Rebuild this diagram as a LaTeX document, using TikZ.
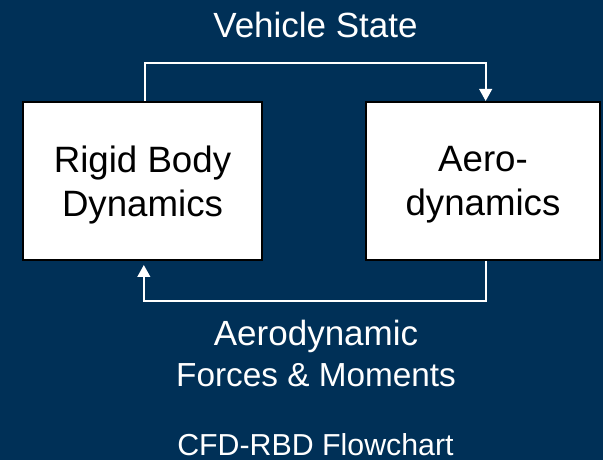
\documentclass[tikz,border=0pt]{standalone}
\usepackage{fontspec}
\setmainfont{Liberation Sans}
\usetikzlibrary{arrows.meta}

\definecolor{navy}{RGB}{0,48,87}

\tikzset{
    block/.style={draw=black, fill=white, line width=1.5pt, align=center,
        font=\fontsize{27.5}{33}\selectfont, inner sep=0pt, text depth=0pt},
    flow/.style={draw=white, line width=1.5pt, -{Triangle[width=9.5pt,length=9pt]}},
    label/.style={text=white, align=center, font=\fontsize{26.25}{30.75}\selectfont}
}

\begin{document}
\begin{tikzpicture}[x=0.75pt, y=0.75pt]

    % Background
    \fill[navy] (0,0) rectangle (603,460);
    \useasboundingbox (0,0) rectangle (603,460);

    %% Coupled solvers

    % Rigid body box
    \node[block, minimum width=179pt, minimum height=118.5pt] (rbd) at (142.5,279)
        {Rigid Body\\Dynamics};

    % Aerodynamics box
    \node[block, minimum width=175.5pt, minimum height=118.5pt] (aero) at (483,279)
        {Aero-\\dynamics};

    % State passed to the flow solver
    \draw[flow] ([xshift=2pt]rbd.north) -- ++(0,38) -| ([xshift=2pt]aero.north);
    \node[label, anchor=base] (state) at (315.5,422.5) {Vehicle State};

    % Loads passed back to the body
    \draw[flow, shorten >=3pt] ([xshift=2pt]aero.south) -- ++(0,-40) -| ([xshift=1pt]rbd.south);
    \node[label, anchor=base] (loads) at (316,73)
        {Aerodynamic\\{\fontsize{25}{30.75}\selectfont Forces \& Moments}};

    % Caption
    \node[label, anchor=base, inner sep=0pt, text depth=0pt,
        font=\fontsize{22.75}{27}\selectfont] (caption) at (315.5,4)
        {CFD-RBD Flowchart};

\end{tikzpicture}
\end{document}
